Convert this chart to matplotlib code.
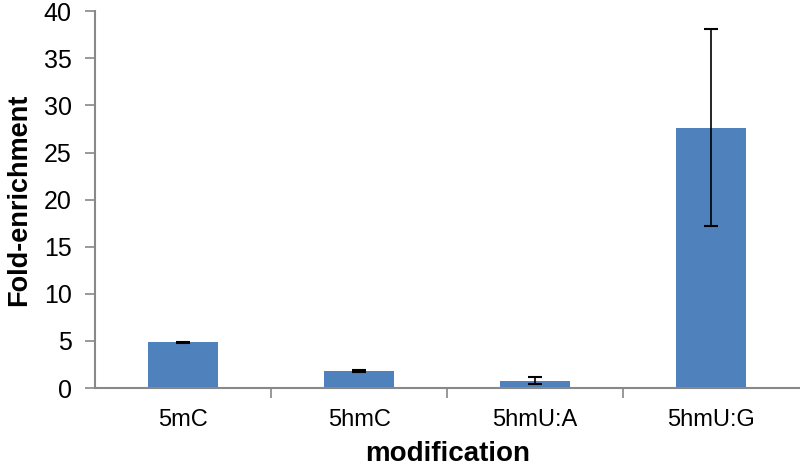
import numpy as np
import matplotlib.pyplot as plt

plt.rcParams['font.family'] = ['Liberation Sans', 'DejaVu Sans']

# Data
categories = ['5mC', '5hmC', '5hmU:A', '5hmU:G']
values = [4.85, 1.8, 0.8, 27.65]
errors = [0.07, 0.07, 0.38, 10.45]

fig = plt.figure(figsize=(8, 4.67), dpi=100)
ax = fig.add_axes([0.119, 0.169, 0.88, 0.807])

x = np.arange(len(categories))
ax.bar(x, values, width=0.4, color='#4F81BD', zorder=2)
ax.errorbar(x, values, yerr=errors, fmt='none', ecolor='black',
            elinewidth=1.2, capsize=5, capthick=1.5, zorder=3)

ax.set_xlim(-0.5, len(categories) - 0.5)
ax.set_ylim(0, 40)
ax.set_yticks(range(0, 41, 5))

# category labels centred, tick marks between categories
ax.set_xticks(x)
ax.set_xticklabels(categories, fontsize=17)
ax.tick_params(axis='x', length=0, pad=15)
ax.set_xticks(np.arange(0.5, len(categories) - 0.5, 1), minor=True)
ax.tick_params(axis='x', which='minor', length=7, color='#888888', width=1.2)
ax.tick_params(axis='y', labelsize=18, length=7, color='#888888', width=1.2, pad=10)

for side in ['top', 'right']:
    ax.spines[side].set_visible(False)
for side in ['left', 'bottom']:
    ax.spines[side].set_color('#888888')
    ax.spines[side].set_linewidth(1.5)

ax.set_xlabel('modification', fontsize=20, fontweight='bold', labelpad=7)
ax.set_ylabel('Fold-enrichment', fontsize=19.5, fontweight='bold', labelpad=8)

fig.savefig('out.png', dpi=100)
